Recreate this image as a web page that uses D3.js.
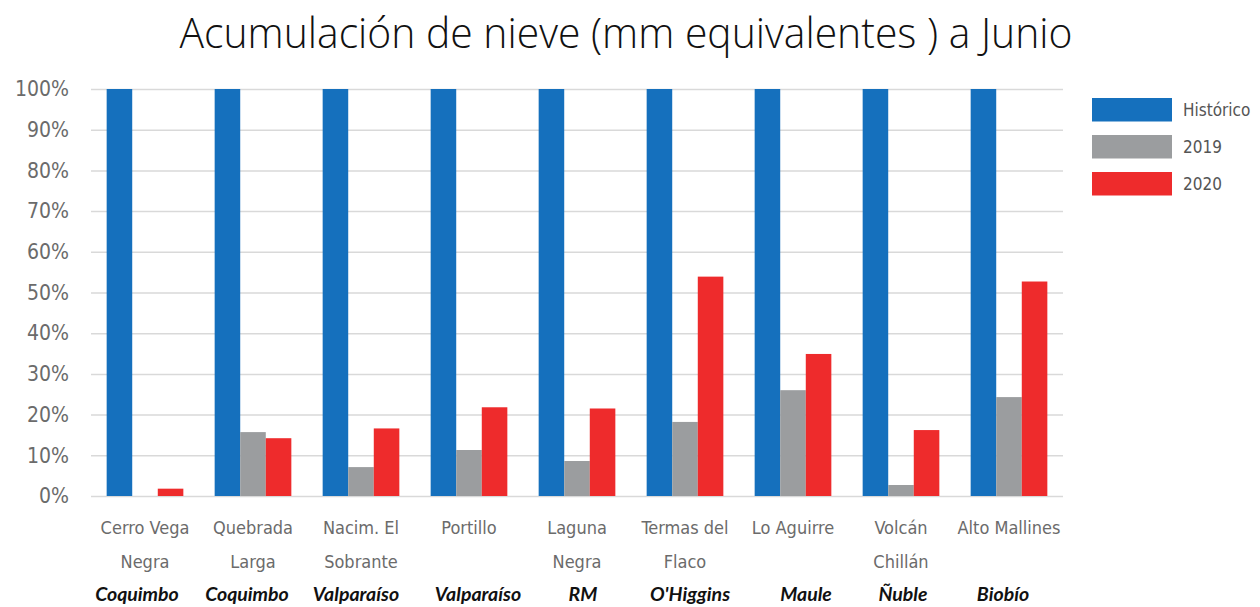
<!DOCTYPE html>
<html><head><meta charset="utf-8">
<script src="https://cdn.jsdelivr.net/npm/d3@7"></script>
<style>body{margin:0;background:#fff}</style>
</head><body>
<svg id="c" width="1260" height="607"></svg>
<script>
const categories = [["Cerro Vega","Negra"],["Quebrada","Larga"],["Nacim. El","Sobrante"],["Portillo"],["Laguna","Negra"],["Termas del","Flaco"],["Lo Aguirre"],["Volcán","Chillán"],["Alto Mallines"]];
const regions = ["Coquimbo","Coquimbo","Valparaíso","Valparaíso","RM","O'Higgins","Maule","Ñuble","Biobío"];
const seriesNames = ["Histórico","2019","2020"];
const historico = [100,100,100,100,100,100,100,100,100];
const y2019 = [0,15.7,7.1,11.3,8.6,18.2,26.0,2.7,24.3];
const y2020 = [1.8,14.2,16.6,21.8,21.5,53.9,34.9,16.2,52.7];
const yTicks = [0,10,20,30,40,50,60,70,80,90,100];
const colors = ["#1570bd","#9b9d9f","#ee2b2c"];

(function(){
const svg = d3.select("#c");
const pL = 91, pR = 1063, pT = 89, pB = 496;
const x = d3.scaleBand().domain(d3.range(categories.length)).range([pL,pR]).paddingInner(0.29).paddingOuter(0.145);
const xs = d3.scaleBand().domain(d3.range(3)).range([0,x.bandwidth()]);
const y = d3.scaleLinear().domain([0,100]).range([pB,pT]);
const series = [historico,y2019,y2020];

const yAxis = d3.axisLeft(y).tickValues(yTicks).tickSize(-(pR-pL)).tickFormat(d=>d+"%").tickPadding(22);
const ga = svg.append("g").attr("transform",`translate(${pL},0)`).call(yAxis);
ga.select(".domain").remove();
ga.selectAll(".tick line").attr("stroke","#d9d9d9").attr("stroke-width",1.5);
ga.selectAll(".tick text").attr("fill","#6b6b6b").style("font-family","'Liberation Sans Narrow','DejaVu Sans Condensed',sans-serif").style("font-size","21px");

series.forEach((s,si)=>{
  svg.append("g").selectAll("rect").data(s).join("rect")
    .attr("x",(d,i)=>x(i)+xs(si))
    .attr("width",xs.bandwidth())
    .attr("y",d=>y(d))
    .attr("height",d=>pB-y(d))
    .attr("fill",colors[si]);
});

const cat = svg.append("g").style("font-family","'Liberation Sans Narrow','DejaVu Sans Condensed',sans-serif").style("font-size","18px").attr("fill","#6b6b6b");
categories.forEach((lines,i)=>{
  const cx = x(i)+x.bandwidth()/2;
  lines.forEach((t,li)=>{
    cat.append("text").attr("x",cx).attr("y",534+li*34).attr("text-anchor","middle").text(t);
  });
});
const regionDx = [-8,-6,-5,9,6,5,13,2,-6];
const reg = svg.append("g").style("font-family","Lato,'Noto Sans',sans-serif").style("font-size","19.5px").style("font-weight","bold").style("font-style","italic").attr("fill","#111");
regions.forEach((t,i)=>{
  reg.append("text").attr("x",x(i)+x.bandwidth()/2+regionDx[i]).attr("y",601).attr("text-anchor","middle").text(t);
});

const lg = svg.append("g").attr("transform","translate(1092,98)");
seriesNames.forEach((n,i)=>{
  lg.append("rect").attr("x",0).attr("y",i*37).attr("width",80).attr("height",23.5).attr("fill",colors[i]);
  lg.append("text").attr("x",91).attr("y",i*37+18).text(n).attr("fill","#555")
    .style("font-family","'Liberation Sans Narrow','DejaVu Sans Condensed',sans-serif").style("font-size","17px");
});

svg.append("text").attr("x",626).attr("y",48).attr("text-anchor","middle")
  .attr("textLength",893).attr("lengthAdjust","spacingAndGlyphs")
  .style("font-family","'Open Sans',sans-serif").style("font-weight","300").style("font-size","42px").attr("fill","#111")
  .text("Acumulación de nieve (mm equivalentes ) a Junio");
})();
</script>
</body></html>
